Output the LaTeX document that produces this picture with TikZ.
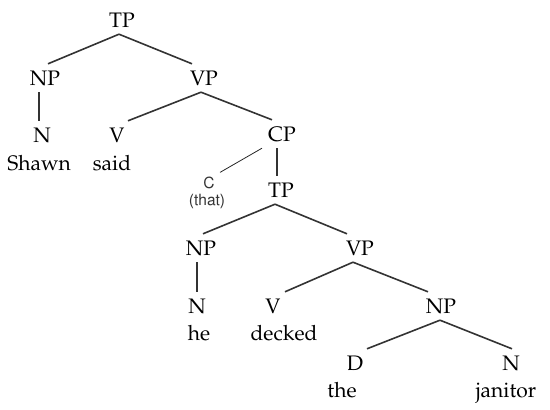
\documentclass[tikz,border=0pt]{standalone}
\usepackage[T1]{fontenc}
\usepackage{mathpazo}
\usepackage{tikz}

\tikzset{
  cat/.style={anchor=base, text height=14pt, text depth=0pt, inner xsep=1pt, inner ysep=7pt, font=\fontsize{21}{25}\selectfont},
  word/.style={anchor=base, inner sep=1pt, font=\fontsize{21}{25}\selectfont},
  small/.style={anchor=base, inner xsep=1pt, inner ysep=4pt, text=black!80, font=\fontfamily{phv}\fontsize{15.5}{18}\selectfont},
  branch/.style={line width=1.6pt, draw=black!80},
  twig/.style={line width=0.8pt, draw=black!85}
}

\begin{document}
\begin{tikzpicture}[x=1pt,y=-1pt]
\useasboundingbox (0,0) rectangle (550,410);
% upper clause
\node[cat] (tp) at (122,27) {TP};
\node[cat] (np) at (45,85) {NP};
\node[cat] (vp) at (204,85) {VP};
\node[cat] (n) at (42,142) {N};
\node[word] (shawn) at (39,170) {Shawn};
\node[cat] (v) at (117,142) {V};
\node[word] (said) at (112,170) {said};
\node[cat] (cp) at (282,141) {CP};
\node[small] (c) at (209,188) {C};
\node[small] (that) at (207,205) {(that)};
% embedded clause
\node[cat] (tpb) at (281,197) {TP};
\node[cat] (npb) at (201,255) {NP};
\node[cat] (vpb) at (360,255) {VP};
\node[cat] (nb) at (197,313) {N};
\node[word] (he) at (199,340) {he};
\node[cat] (vb) at (273,313) {V};
\node[word] (decked) at (284,340) {decked};
\node[cat] (npc) at (441,313) {NP};
\node[cat] (d) at (355,370) {D};
\node[word] (the) at (342,397) {the};
\node[cat] (nc) at (511,370) {N};
\node[word] (janitor) at (506,397) {janitor};
% branches
\draw[branch] ([xshift=-3pt]tp.south) -- ([xshift=3pt]np.north);
\draw[branch] ([xshift=-3pt]tp.south) -- ([xshift=-12pt]vp.north);
\draw[branch] ([xshift=-6pt]np.south) -- ([xshift=-3pt]n.north);
\draw[branch] ([xshift=-3pt]vp.south) -- ([xshift=11pt]v.north);
\draw[branch] ([xshift=-3pt]vp.south) -- ([xshift=-10pt]cp.north);
\draw[twig] ([xshift=-20pt]cp.south) -- ([xshift=11pt]c.north);
\draw[branch] ([xshift=-5pt]cp.south) -- ([xshift=-4pt]tpb.north);
\draw[branch] ([xshift=-6pt]tpb.south) -- ([xshift=2pt]npb.north);
\draw[branch] ([xshift=-6pt]tpb.south) -- ([xshift=-13pt]vpb.north);
\draw[branch] ([xshift=-4pt]npb.south) -- (nb.north);
\draw[branch] ([xshift=-7pt]vpb.south) -- ([xshift=12pt]vb.north);
\draw[branch] ([xshift=-7pt]vpb.south) -- ([xshift=-13pt]npc.north);
\draw[branch] ([xshift=-1pt]npc.south) -- ([xshift=12pt]d.north);
\draw[branch] ([xshift=-1pt]npc.south) -- ([xshift=1pt]nc.north);
\end{tikzpicture}
\end{document}
